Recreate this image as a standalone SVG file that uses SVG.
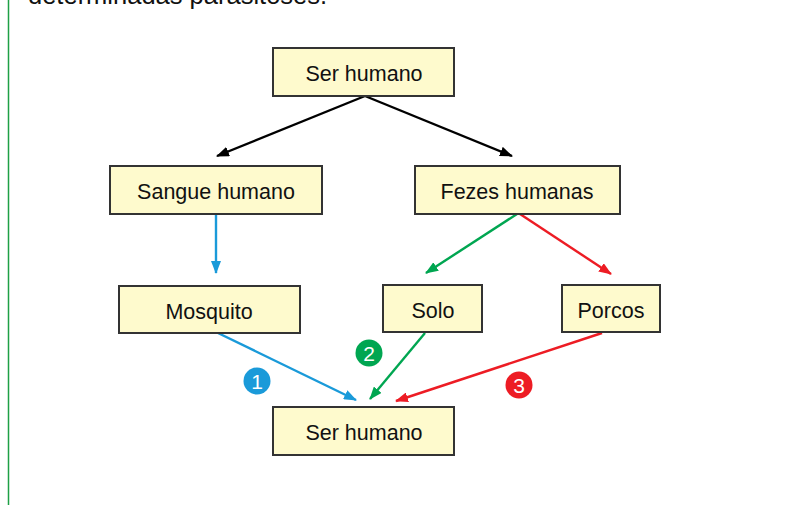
<svg xmlns="http://www.w3.org/2000/svg" width="792" height="505" viewBox="0 0 792 505">
<style>
.box{fill:#fefacd;stroke:#333;stroke-width:2}
.lbl{font-family:"Liberation Sans",Arial,sans-serif;font-size:21.5px;fill:#111;text-anchor:middle}
.num{font-family:"Liberation Sans",Arial,sans-serif;font-size:21px;fill:#fff;text-anchor:middle}
.c{fill:none;stroke-width:2.4}
</style>
<defs>
<marker id="ak" viewBox="0 0 13 10" refX="12" refY="5" markerWidth="13" markerHeight="10" markerUnits="userSpaceOnUse" orient="auto"><path d="M0,0 L13,5 L0,10 z" fill="#000"/></marker>
<marker id="ab" viewBox="0 0 13 10" refX="12" refY="5" markerWidth="13" markerHeight="10" markerUnits="userSpaceOnUse" orient="auto"><path d="M0,0 L13,5 L0,10 z" fill="#1a9ad9"/></marker>
<marker id="ag" viewBox="0 0 13 10" refX="12" refY="5" markerWidth="13" markerHeight="10" markerUnits="userSpaceOnUse" orient="auto"><path d="M0,0 L13,5 L0,10 z" fill="#00a651"/></marker>
<marker id="ar" viewBox="0 0 13 10" refX="12" refY="5" markerWidth="13" markerHeight="10" markerUnits="userSpaceOnUse" orient="auto"><path d="M0,0 L13,5 L0,10 z" fill="#ed1c24"/></marker>
</defs>
<rect width="792" height="505" fill="#fff"/>
<line x1="8.5" y1="0" x2="8.5" y2="505" stroke="#1ea046" stroke-width="1.5"/>
<text x="28" y="4" style="font-family:'Liberation Sans',Arial,sans-serif;font-size:25.5px;fill:#111">determinadas parasitoses.</text>
<g id="connectors">
<line class="c" x1="365" y1="96" x2="217" y2="156" stroke="#000" marker-end="url(#ak)"/>
<line class="c" x1="365" y1="96" x2="512" y2="156" stroke="#000" marker-end="url(#ak)"/>
<line class="c" x1="216" y1="214" x2="216" y2="273" stroke="#1a9ad9" marker-end="url(#ab)"/>
<line class="c" x1="517" y1="214" x2="426" y2="273" stroke="#00a651" marker-end="url(#ag)"/>
<line class="c" x1="520" y1="214" x2="611" y2="274" stroke="#ed1c24" marker-end="url(#ar)"/>
<line class="c" x1="218" y1="333" x2="356" y2="400" stroke="#1a9ad9" marker-end="url(#ab)"/>
<line class="c" x1="425" y1="333" x2="370" y2="399" stroke="#00a651" marker-end="url(#ag)"/>
<line class="c" x1="602" y1="333" x2="396" y2="401" stroke="#ed1c24" marker-end="url(#ar)"/>
</g>
<g id="n-ser-top"><rect class="box" x="273" y="48" width="181" height="48"/><text class="lbl" x="364" y="81">Ser humano</text></g>
<g id="n-sangue"><rect class="box" x="110" y="166" width="212" height="48"/><text class="lbl" x="216" y="199">Sangue humano</text></g>
<g id="n-fezes"><rect class="box" x="415" y="166" width="205" height="48"/><text class="lbl" x="517" y="199">Fezes humanas</text></g>
<g id="n-mosquito"><rect class="box" x="119" y="286" width="181" height="47"/><text class="lbl" x="209" y="319">Mosquito</text></g>
<g id="n-solo"><rect class="box" x="383" y="285" width="99" height="47"/><text class="lbl" x="433" y="318">Solo</text></g>
<g id="n-porcos"><rect class="box" x="562" y="285" width="98" height="47"/><text class="lbl" x="611" y="318">Porcos</text></g>
<g id="n-ser-bottom"><rect class="box" x="273" y="407" width="181" height="48"/><text class="lbl" x="364" y="440">Ser humano</text></g>
<g id="b1"><circle cx="257" cy="381" r="13.5" fill="#1a9ad9"/><text class="num" x="257" y="388.5">1</text></g>
<g id="b2"><circle cx="369" cy="353" r="13.5" fill="#00a651"/><text class="num" x="369" y="360.5">2</text></g>
<g id="b3"><circle cx="519" cy="385" r="13.5" fill="#ed1c24"/><text class="num" x="519" y="392.5">3</text></g>
</svg>
